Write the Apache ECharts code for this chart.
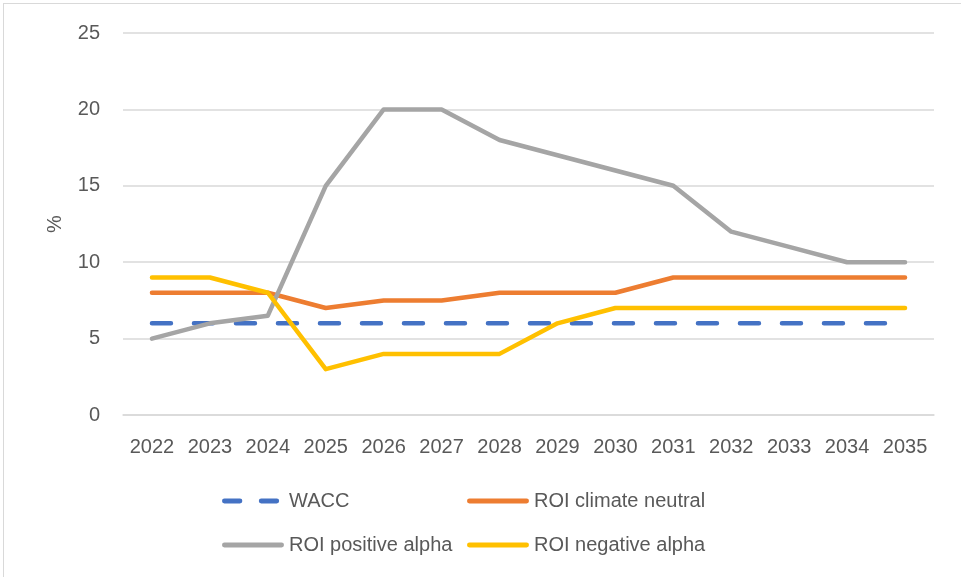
<!DOCTYPE html>
<html>
<head>
<meta charset="utf-8">
<script src="https://cdn.jsdelivr.net/npm/echarts@6/dist/echarts.min.js"></script>
<style>
html,body{margin:0;padding:0;background:#fff;}
#frame{position:absolute;left:3px;top:3px;width:970px;height:590px;border:1px solid #d9d9d9;box-sizing:border-box;}
#chart{position:absolute;left:0;top:0;width:961px;height:577px;}
</style>
</head>
<body>
<div id="frame"></div>
<div id="chart"></div>
<script>
var years = ['2022','2023','2024','2025','2026','2027','2028','2029','2030','2031','2032','2033','2034','2035'];
var wacc = [6, 6, 6, 6, 6, 6, 6, 6, 6, 6, 6, 6, 6, 6];
var roiNeutral = [8, 8, 8, 7, 7.5, 7.5, 8, 8, 8, 9, 9, 9, 9, 9];
var roiPositive = [5, 6, 6.5, 15, 20, 20, 18, 17, 16, 15, 12, 11, 10, 10];
var roiNegative = [9, 9, 8, 3, 4, 4, 4, 6, 7, 7, 7, 7, 7, 7];

var fontFamily = 'Liberation Sans, Arial, sans-serif';
var textColor = '#595959';
// legend icons: solid bar and two rounded dashes
var solidIcon = 'path://M2.5,0h59a2.5,2.5 0 0 1 0,5h-59a2.5,2.5 0 0 1 0,-5z';
var dashIcon = 'path://M2.5,0h16a2.5,2.5 0 0 1 0,5h-16a2.5,2.5 0 0 1 0,-5z M40.5,0h16a2.5,2.5 0 0 1 0,5h-16a2.5,2.5 0 0 1 0,-5z M64,0h0v5h0z';

function lineSeries(name, data, color, dash){
    return {
        name: name,
        type: 'line',
        symbol: 'none',
        data: data,
        lineStyle: {
            color: color,
            width: 4.5,
            type: dash || 'solid',
            cap: 'round',
            join: 'round'
        },
        itemStyle: {color: color},
        z: dash ? 1 : 2
    };
}

var chart = echarts.init(document.getElementById('chart'));
var legendBase = {
    orient: 'vertical',
    top: 484,
    itemWidth: 62,
    itemHeight: 5,
    itemGap: 20,
    textStyle: {color: textColor, fontSize: 20, fontFamily: fontFamily, lineHeight: 24}
};
var option = {
    animation: false,
    grid: {left: 123, right: 27, top: 33, bottom: 162},
    legend: [
        Object.assign({left: 217, data: [{name: 'WACC', icon: dashIcon}, {name: 'ROI positive alpha', icon: solidIcon}]}, legendBase),
        Object.assign({left: 462, data: [{name: 'ROI climate neutral', icon: solidIcon}, {name: 'ROI negative alpha', icon: solidIcon}]}, legendBase)
    ],
    xAxis: {
        type: 'category',
        data: years,
        boundaryGap: true,
        axisLine: {lineStyle: {color: '#d9d9d9', width: 1.5}},
        axisTick: {show: false},
        axisLabel: {color: textColor, fontSize: 20, fontFamily: fontFamily, margin: 22}
    },
    yAxis: {
        type: 'value',
        min: 0,
        max: 25,
        interval: 5,
        name: '%',
        nameLocation: 'middle',
        nameGap: 58,
        nameRotate: 90,
        nameTextStyle: {color: textColor, fontSize: 20, fontFamily: fontFamily},
        axisLine: {show: false},
        axisTick: {show: false},
        axisLabel: {color: textColor, fontSize: 20, fontFamily: fontFamily, margin: 23},
        splitLine: {lineStyle: {color: '#d9d9d9', width: 1.5}}
    },
    series: [
        lineSeries('WACC', wacc, '#4472C4', [19, 23]),
        lineSeries('ROI climate neutral', roiNeutral, '#ED7D31'),
        lineSeries('ROI positive alpha', roiPositive, '#A5A5A5'),
        lineSeries('ROI negative alpha', roiNegative, '#FFC000')
    ]
};
chart.setOption(option);
window.addEventListener('resize', function(){
    chart.resize();
});
</script>
</body>
</html>
